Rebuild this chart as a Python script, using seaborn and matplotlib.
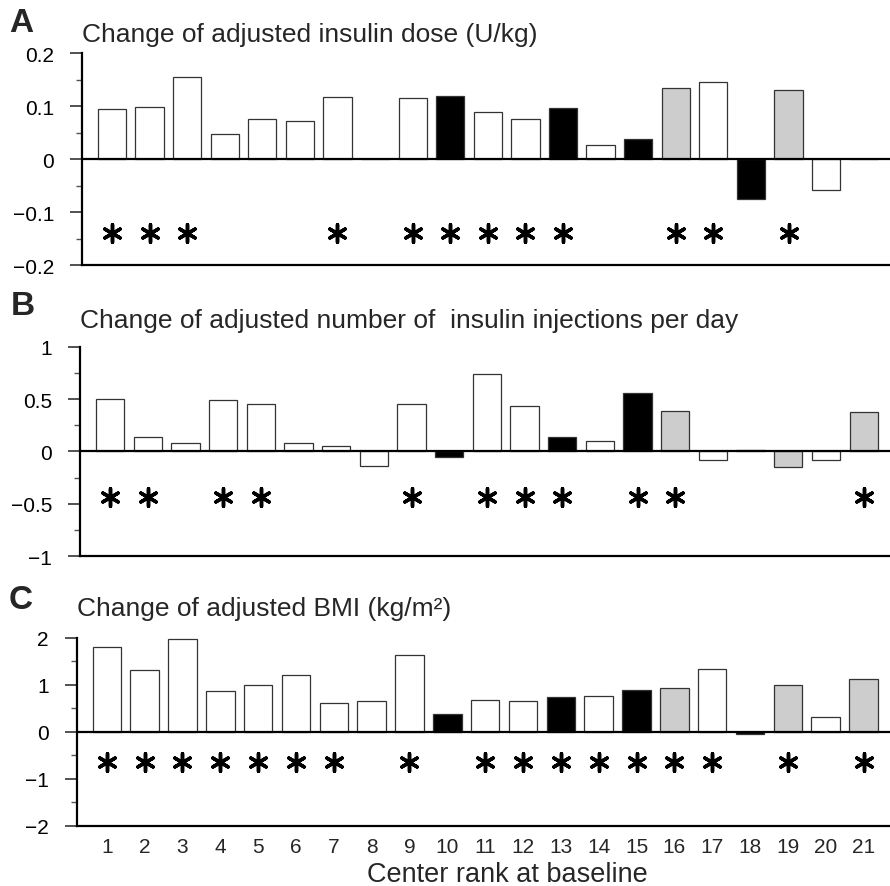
import numpy as np
import pandas as pd
import matplotlib
matplotlib.use("Agg")
import matplotlib.pyplot as plt
from matplotlib.ticker import FixedLocator, FixedFormatter
import seaborn as sns

# ---------------- data ----------------
centers = list(range(1, 22))
groups = ["white"] * 9 + ["black", "white", "white", "black", "white", "black",
                          "gray", "white", "black", "gray", "white", "gray"]

dose_change = [0.094, 0.099, 0.154, 0.048, 0.076, 0.072, 0.117, 0.0, 0.115, 0.120,
               0.088, 0.075, 0.097, 0.026, 0.038, 0.135, 0.146, -0.075, 0.130, -0.059, 0.0]
dose_stars = [1, 2, 3, 7, 9, 10, 11, 12, 13, 16, 17, 19]

inj_change = [0.50, 0.134, 0.08, 0.49, 0.45, 0.08, 0.048, -0.137, 0.45, -0.05,
              0.74, 0.43, 0.137, 0.095, 0.557, 0.385, -0.083, 0.01, -0.147, -0.08, 0.38]
inj_stars = [1, 2, 4, 5, 9, 11, 12, 13, 15, 16, 21]

bmi_change = [1.80, 1.31, 1.98, 0.87, 1.00, 1.21, 0.61, 0.66, 1.64, 0.38,
              0.68, 0.66, 0.73, 0.76, 0.88, 0.92, 1.34, -0.05, 1.00, 0.32, 1.11]
bmi_stars = [1, 2, 3, 4, 5, 6, 7, 9, 11, 12, 13, 14, 15, 16, 17, 19, 21]

panel_letters = ["A", "B", "C"]
panel_titles = ["Change of adjusted insulin dose (U/kg)",
                "Change of adjusted number of  insulin injections per day",
                "Change of adjusted BMI (kg/m\u00b2)"]
y_ticks = [[-0.2, -0.1, 0, 0.1, 0.2], [-1, -0.5, 0, 0.5, 1], [-2, -1, 0, 1, 2]]
y_ticklabels = [["\u22120.2", "\u22120.1", "0", "0.1", "0.2"],
                ["\u22121", "\u22120.5", "0", "0.5", "1"],
                ["\u22122", "\u22121", "0", "1", "2"]]
star_levels = [-0.14, -0.44, -0.65]
x_label = "Center rank at baseline"

# ---------------- style ----------------
sns.set_theme(style="ticks")
plt.rcParams["font.family"] = ["Liberation Sans", "DejaVu Sans"]

palette = {"white": "white", "black": "black", "gray": "#cdcdcd"}

fig = plt.figure(figsize=(8.9, 8.87), dpi=100)

# axes rectangles [left, bottom, width, height] in figure fraction
rects = [[0.092, 0.700, 0.908, 0.239],
         [0.090, 0.372, 0.910, 0.236],
         [0.086, 0.068, 0.914, 0.212]]
title_pos = [(0.010, 0.964, 0.092, 0.9526),
             (0.012, 0.645, 0.090, 0.630),
             (0.010, 0.313, 0.087, 0.305)]

series = [dose_change, inj_change, bmi_change]
stars = [dose_stars, inj_stars, bmi_stars]

for i in range(3):
    ax = fig.add_axes(rects[i])
    df = pd.DataFrame({"center": centers, "value": series[i], "group": groups})
    sns.barplot(data=df, x="center", y="value", hue="group", palette=palette,
                native_scale=True, width=0.75, dodge=False, legend=False,
                edgecolor="#333333", linewidth=0.9, ax=ax)
    sdf = pd.DataFrame({"center": stars[i], "y": [star_levels[i]] * len(stars[i])})
    sns.scatterplot(data=sdf, x="center", y="y", marker=(6, 2, 0), s=160,
                    color="black", linewidth=2.5, ax=ax, zorder=5)
    ax.axhline(0, color="black", lw=1.6, zorder=4)

    ax.set_xlim(0.2, 21.7)
    ax.set_ylim(y_ticks[i][0], y_ticks[i][-1])
    ax.yaxis.set_major_locator(FixedLocator(y_ticks[i]))
    ax.yaxis.set_major_formatter(FixedFormatter(y_ticklabels[i]))
    mids = [(a + b) / 2 for a, b in zip(y_ticks[i][:-1], y_ticks[i][1:])]
    ax.yaxis.set_minor_locator(FixedLocator(mids))
    ax.tick_params(axis="y", which="major", length=9, width=1.2, pad=11,
                   labelsize=15, color="#333333", labelcolor="black")
    ax.tick_params(axis="y", which="minor", length=4, width=1.0, color="#555555")

    ax.set_xticks(centers)
    if i == 2:
        ax.set_xticklabels([str(c) for c in centers])
        ax.tick_params(axis="x", length=0, pad=8, labelsize=15)
    else:
        ax.set_xticklabels([])
        ax.tick_params(axis="x", length=0)
    ax.set_xlabel("")
    ax.set_ylabel("")

    sns.despine(ax=ax)
    for sp in ("left", "bottom"):
        ax.spines[sp].set_linewidth(1.6)
        ax.spines[sp].set_color("black")

    lx, ly, tx, ty = title_pos[i]
    fig.text(lx, ly, panel_letters[i], fontsize=24, fontweight="bold",
             va="baseline", ha="left")
    fig.text(tx, ty, panel_titles[i], fontsize=19, va="baseline", ha="left")

fig.text(0.57, 0.006, x_label, fontsize=19.5, va="baseline", ha="center")

fig.savefig("out.png", dpi=100)
